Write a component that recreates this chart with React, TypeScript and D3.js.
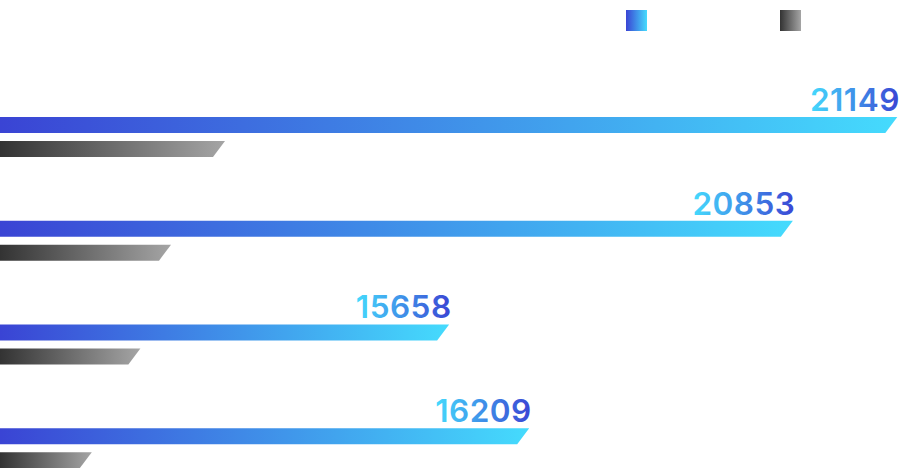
import { useEffect, useRef } from "react"
import * as d3 from "d3"

// данные
const categories = ["item1", "item2", "item3", "item4"]
const blueValues = [99.7, 88.1, 49.9, 58.8]
const greyValues = [25.0, 19.0, 15.6, 10.2]
const labelValues = [21149, 20853, 15658, 16209]

export default function App() {
  const svgRef = useRef<SVGSVGElement>(null)

  useEffect(() => {
    if (!svgRef.current) return
    document.body.style.margin = "0"

    const width = 900
    const height = 468
    const svg = d3.select(svgRef.current)
    svg.selectAll("*").remove()
    svg.attr("width", width).attr("height", height)

    const defs = svg.append("defs")

    const grad = (id: string, from: string, to: string) => {
      const g = defs.append("linearGradient").attr("id", id).attr("x1", "0").attr("y1", "0").attr("x2", "1").attr("y2", "0")
      g.append("stop").attr("offset", "0%").attr("stop-color", from)
      g.append("stop").attr("offset", "100%").attr("stop-color", to)
    }
    grad("blueGrad", "#3a44d4", "#45dbfd")
    grad("greyGrad", "#333333", "#a5a5a5")
    grad("textGrad", "#45dbfd", "#3a44d4")

    const x = d3.scaleLinear().domain([0, 100]).range([0, width])
    const y = d3.scaleBand().domain(categories).range([85, 500]).padding(0)

    const barH = 16
    const gap = 8
    const slant = 12

    // путь бара со скошенным концом
    const barPath = (x0: number, x1: number, top: number) =>
      `M${x0},${top}L${x1},${top}L${x1 - slant},${top + barH}L${x0},${top + barH}Z`

    const groups = svg
      .selectAll("g.cat")
      .data(categories)
      .enter()
      .append("g")
      .attr("class", "cat")

    groups
      .append("path")
      .attr("d", (d, i) => {
        const c = (y(d) || 0) + y.bandwidth() / 2
        return barPath(x(0), x(blueValues[i]), c - gap / 2 - barH)
      })
      .attr("fill", "url(#blueGrad)")

    groups
      .append("path")
      .attr("d", (d, i) => {
        const c = (y(d) || 0) + y.bandwidth() / 2
        return barPath(x(0), x(greyValues[i]), c + gap / 2)
      })
      .attr("fill", "url(#greyGrad)")

    groups
      .append("text")
      .attr("x", (d, i) => x(blueValues[i]) + 2.5)
      .attr("y", (d) => (y(d) || 0) + y.bandwidth() / 2 - gap / 2 - barH - 6)
      .attr("text-anchor", "end")
      .attr("font-family", "Inter, sans-serif")
      .attr("font-weight", 600)
      .attr("font-size", 31.5)
      .attr("letter-spacing", 0.5)
      .attr("fill", "url(#textGrad)")
      .text((d, i) => String(labelValues[i]))

    // легенда
    const legend = svg.append("g")
    legend.append("rect").attr("x", 626).attr("y", 10).attr("width", 21).attr("height", 21).attr("fill", "url(#blueGrad)")
    legend.append("rect").attr("x", 780).attr("y", 10).attr("width", 21).attr("height", 21).attr("fill", "url(#greyGrad)")
  }, [])

  return <svg ref={svgRef} style={{ display: "block" }} />
}
